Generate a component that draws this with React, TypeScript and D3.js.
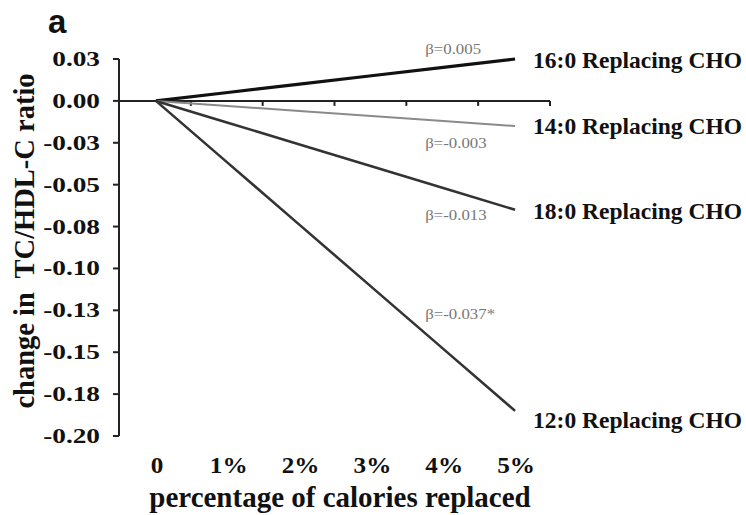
import { useRef, useEffect } from 'react';
import * as d3 from 'd3';

const categories = ['0', '1%', '2%', '3%', '4%', '5%'];

const yTicks = [0.025, 0, -0.025, -0.05, -0.075, -0.1, -0.125, -0.15, -0.175, -0.2];
const yTickLabels = ['0.03', '0.00', '-0.03', '-0.05', '-0.08', '-0.10', '-0.13', '-0.15', '-0.18', '-0.20'];

const seriesNames = ['16:0 Replacing CHO', '14:0 Replacing CHO', '18:0 Replacing CHO', '12:0 Replacing CHO'];
const betaLabels = ['\u03b2=0.005', '\u03b2=-0.003', '\u03b2=-0.013', '\u03b2=-0.037*'];
const palmitic = [0, 0.005, 0.01, 0.015, 0.02, 0.025];
const myristic = [0, -0.003, -0.006, -0.009, -0.012, -0.015];
const stearic = [0, -0.013, -0.026, -0.039, -0.052, -0.065];
const lauric = [0, -0.037, -0.074, -0.111, -0.148, -0.185];

const seriesValues = [palmitic, myristic, stearic, lauric];
const seriesColors = ['#111', '#8a8a8a', '#333', '#333'];
const seriesWidths = [3.2, 2, 2.6, 2.6];
// where the beta note sits (category index, value)
const betaPos: [number, number][] = [
  [4, 0.031],
  [4, -0.025],
  [4, -0.068],
  [4, -0.127],
];

const W = 746;
const H = 515;
const serif = '"Liberation Serif", "Times New Roman", serif';

// text that is a bit wider than the font, like the scanned figure
const label = (parent: any, x: number, y: number, txt: string, font: string, sx = 1, anchor = 'start', fill = '#111') =>
  parent
    .append('text')
    .attr('transform', `translate(${x},${y}) scale(${sx},1)`)
    .attr('text-anchor', anchor)
    .style('font', font)
    .attr('fill', fill)
    .text(txt);

const Chart = () => {
  const ref = useRef<SVGSVGElement>(null);

  useEffect(() => {
    document.body.style.margin = '0';
    const svg = d3.select(ref.current).attr('width', W).attr('height', H);
    svg.selectAll('*').remove();

    const x = d3.scaleBand().domain(categories).range([120, 551]).paddingInner(0);
    const y = d3.scaleLinear().domain([-0.2, 0.025]).range([436, 59]);
    const cx = (i: number) => (x(categories[i]) as number) + x.bandwidth() / 2;

    // y axis
    const yAxis = svg.append('g').attr('transform', `translate(${x.range()[0] - 1},0)`);
    yAxis.append('line').attr('y1', y(0.025)).attr('y2', y(-0.2)).attr('stroke', '#222').attr('stroke-width', 2);
    yTicks.forEach((t, i) => {
      yAxis.append('line').attr('x1', -6).attr('x2', 0).attr('y1', y(t)).attr('y2', y(t)).attr('stroke', '#222').attr('stroke-width', 2);
      label(yAxis, -19, y(t) + 7, yTickLabels[i], `bold 21px ${serif}`, 1.3, 'end');
    });

    // x axis sits on y = 0, ticks between categories
    const xAxis = svg.append('g').attr('transform', `translate(0,${y(0)})`);
    xAxis.append('line').attr('x1', x.range()[0] - 1).attr('x2', x.range()[1] - 1).attr('stroke', '#222').attr('stroke-width', 2);
    categories.forEach((c) => {
      const edge = (x(c) as number) + x.bandwidth() - 1;
      xAxis.append('line').attr('x1', edge).attr('x2', edge).attr('y1', 0).attr('y2', 5).attr('stroke', '#222').attr('stroke-width', 2);
    });

    // category labels at the bottom
    categories.forEach((c) => {
      label(svg, (x(c) as number) + x.bandwidth() / 2 + 1, 473, c, `bold 24px ${serif}`, 1.05, 'middle');
    });

    // lines
    const line = d3
      .line<number>()
      .x((_, i) => cx(i))
      .y((d) => y(d));

    const nameOffset = [1, 0, 1, 9];

    seriesValues.forEach((vals, k) => {
      svg
        .append('path')
        .datum(vals)
        .attr('d', line)
        .attr('fill', 'none')
        .attr('stroke', seriesColors[k])
        .attr('stroke-width', seriesWidths[k]);

      const last = vals[vals.length - 1];
      label(svg, cx(vals.length - 1) + 18, y(last) + 8 + nameOffset[k], seriesNames[k], `bold 23.5px ${serif}`);

      label(svg, cx(betaPos[k][0]) - 18, y(betaPos[k][1]) + 5, betaLabels[k], `14px ${serif}`, 1.2, 'start', '#777');
    });

    // titles
    label(svg, 340, 507, 'percentage of calories replaced', `bold 29px ${serif}`, 1, 'middle');

    svg
      .append('text')
      .attr('transform', `translate(34,241) rotate(-90)`)
      .attr('text-anchor', 'middle')
      .style('font', `bold 28.5px ${serif}`)
      .style('white-space', 'pre')
      .attr('fill', '#111')
      .text('change in  TC/HDL-C ratio');

    label(svg, 48, 33, 'a', 'bold 33px "Liberation Sans", Arial, sans-serif');
  }, []);

  return <svg ref={ref} style={{ display: 'block', background: '#fff' }}></svg>;
};

export default function App() {
  return <Chart />;
}
